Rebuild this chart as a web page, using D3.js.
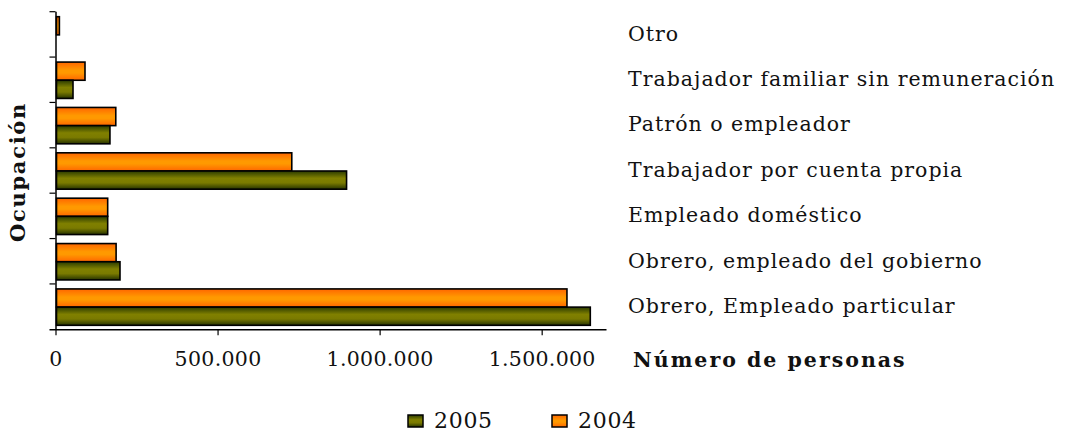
<!DOCTYPE html>
<html>
<head>
<meta charset="utf-8">
<script src="https://cdn.jsdelivr.net/npm/d3@7"></script>
<style>
    body { margin: 0; background: #fff; }
    svg { display: block; font-family: 'DejaVu Serif', serif; }
</style>
</head>
<body>
<svg id="chart" width="1066" height="432"></svg>
<script>
// data (listed top to bottom as in the picture)
let categories = ['Otro', 'Trabajador familiar sin remuneración', 'Patrón o empleador',
    'Trabajador por cuenta propia', 'Empleado doméstico', 'Obrero, empleado del gobierno',
    'Obrero, Empleado particular']
let series = ['2004', '2005']
let values2004 = [12000, 91000, 186000, 729000, 161000, 187000, 1578000]
let values2005 = [2000, 54000, 168000, 898000, 161000, 199000, 1650000]
let xTicks = [0, 500000, 1000000, 1500000]

let svg = d3.select('#chart')
let marginLeft = 55.5
let marginTop = 11.7
let width = 551
let height = 317.6

// gradients
let defs = svg.append('defs')
function addGradient(id, stops) {
    let grad = defs.append('linearGradient').attr('id', id)
        .attr('x1', 0).attr('y1', 0).attr('x2', 0).attr('y2', 1)
    stops.forEach(s => grad.append('stop').attr('offset', s[0]).attr('stop-color', s[1]))
}
addGradient('g2004', [[0, '#ff6600'], [0.45, '#ff9900'], [0.6, '#ff9900'], [1, '#ff6600']])
addGradient('g2005', [[0, '#2a3a00'], [0.4, '#808000'], [0.65, '#7a7a00'], [1, '#263300']])

let g = svg.append('g').attr('transform', 'translate(' + marginLeft + ',' + marginTop + ')')

let xScale = d3.scaleLinear().domain([0, 1700000]).range([0, width])
let yScale = d3.scaleBand().domain(categories).range([0, height])
let inner = d3.scaleBand().domain(series).range([5, yScale.bandwidth() - 4])

// axes
let fmt = d => d3.format(',')(d).replace(/,/g, '.')
let xAxis = g.append('g').attr('transform', 'translate(0,' + height + ')')
    .call(d3.axisBottom(xScale).tickValues(xTicks).tickSizeOuter(0).tickSize(6).tickFormat(fmt))
xAxis.select('.domain').attr('d', 'M-6,0.5H' + width).attr('stroke-width', 1.5)
xAxis.selectAll('.tick line').attr('stroke-width', 1.2)
xAxis.selectAll('.tick text').attr('font-family', 'DejaVu Serif').attr('font-size', 20.5)
    .attr('letter-spacing', 0.3).attr('fill', '#111').attr('y', 37).attr('dy', 0)

let yAxis = g.append('g')
    .call(d3.axisLeft(yScale).tickValues([]).tickSizeOuter(0))
yAxis.select('.domain').attr('d', 'M0.5,0V' + height).attr('stroke-width', 1.5)
// tick marks at band boundaries
g.append('g').selectAll('line').data(categories).enter().append('line')
    .attr('x1', -6).attr('x2', 0)
    .attr('y1', d => yScale(d)).attr('y2', d => yScale(d))
    .attr('stroke', '#000').attr('stroke-width', 1.2)

// bars
let rows = categories.map((c, i) => ({ cat: c, v2004: values2004[i], v2005: values2005[i] }))
let groups = g.selectAll('.cat').data(rows).enter().append('g')
    .attr('transform', d => 'translate(0,' + yScale(d.cat) + ')')
series.forEach(s => {
    groups.append('rect')
        .attr('x', 1)
        .attr('y', inner(s))
        .attr('width', d => Math.max(0, xScale(d['v' + s]) - 1))
        .attr('height', inner.bandwidth())
        .attr('fill', 'url(#g' + s + ')')
        .attr('stroke', '#000')
        .attr('stroke-width', 1.6)
})

// category labels on the right
svg.append('g').selectAll('text').data(categories).enter().append('text')
    .attr('x', 628)
    .attr('y', d => marginTop + yScale(d) + yScale.bandwidth() / 2 + 6.3)
    .attr('font-size', 20.5)
    .attr('letter-spacing', 1)
    .attr('fill', '#111')
    .text(d => d)

// axis titles
svg.append('text').attr('x', 633).attr('y', 367)
    .attr('font-size', 20.5).attr('font-weight', 'bold').attr('letter-spacing', 2)
    .attr('fill', '#111')
    .text('Número de personas')
svg.append('text').attr('transform', 'translate(25,172) rotate(-90)')
    .attr('text-anchor', 'middle')
    .attr('font-size', 21).attr('font-weight', 'bold').attr('letter-spacing', 1.7)
    .attr('fill', '#111')
    .text('Ocupación')

// legend
let legend = svg.append('g').attr('transform', 'translate(408,415)')
let legendItems = [['2005', 0], ['2004', 144]]
legendItems.forEach(item => {
    let lg = legend.append('g').attr('transform', 'translate(' + item[1] + ',0)')
    lg.append('rect').attr('x', 0).attr('y', 0).attr('width', 15).attr('height', 12)
        .attr('fill', 'url(#g' + item[0] + ')').attr('stroke', '#000').attr('stroke-width', 1.5)
    lg.append('text').attr('x', 26).attr('y', 12.7).attr('font-size', 22)
        .attr('letter-spacing', 0.7).attr('fill', '#111')
        .text(item[0])
})
</script>
</body>
</html>
